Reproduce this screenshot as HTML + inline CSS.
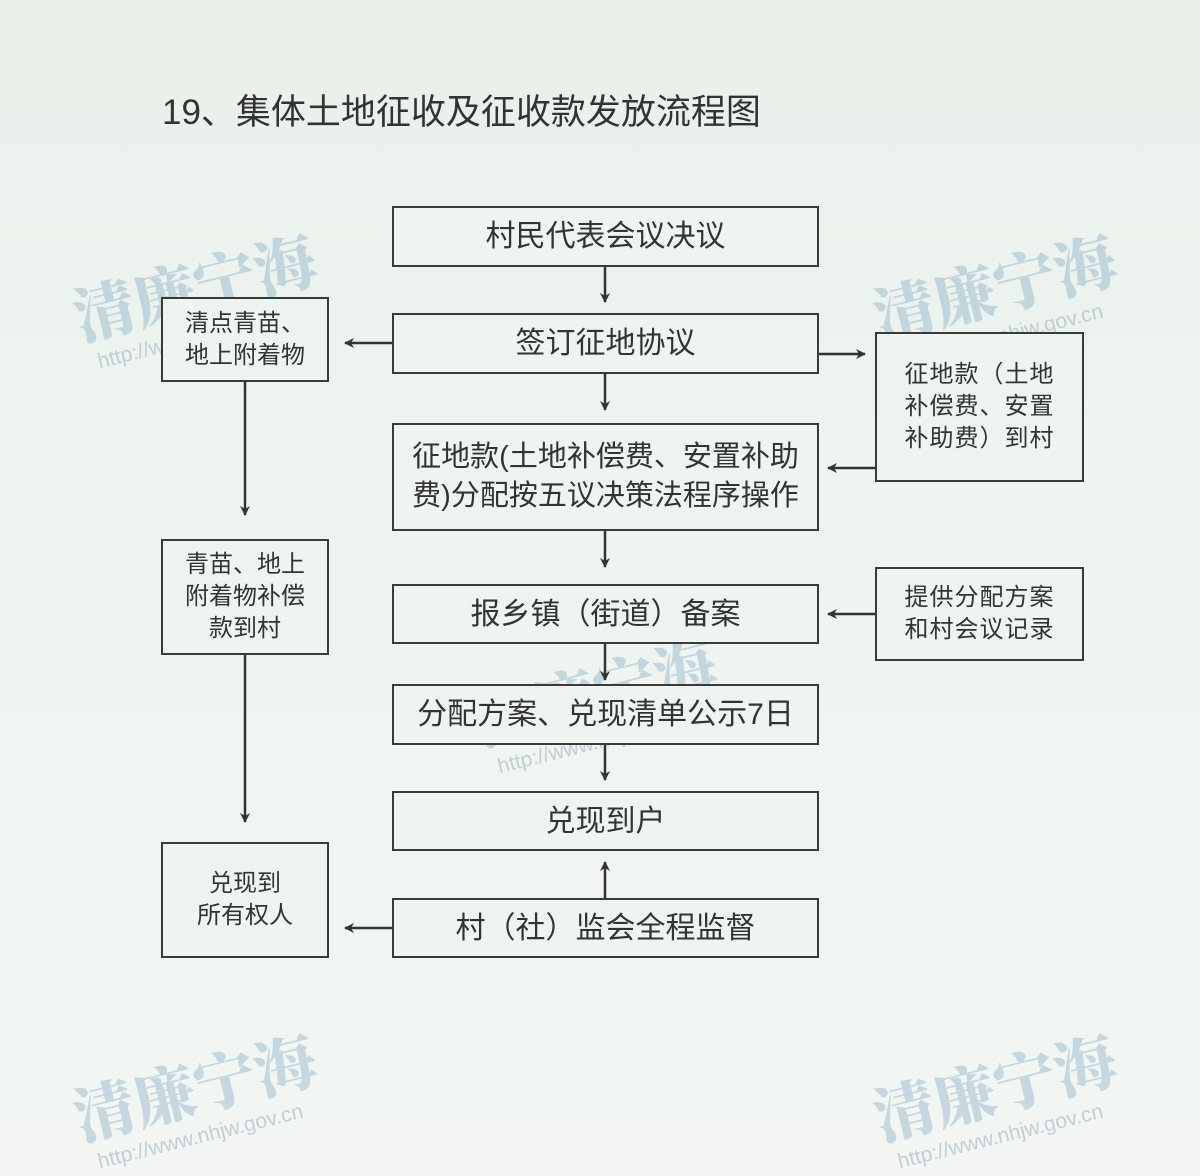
<!DOCTYPE html>
<html><head><meta charset="utf-8"><style>
body{margin:0;width:1200px;height:1176px;overflow:hidden;background:linear-gradient(#e9efe9,#eef4f0 40%,#f3f6f3);font-family:"Liberation Sans","Noto Sans CJK SC",sans-serif;color:#333;position:relative}
.b{position:absolute;box-sizing:border-box;border:2.5px solid #3a3a3a;background:#eef5f1;display:flex;align-items:center;justify-content:center;text-align:center;font-size:30px;line-height:39px}
.s{font-size:24px;line-height:32px}
.r{letter-spacing:1px}
.wm{position:absolute;font-family:"Noto Serif CJK SC",serif;font-weight:900;font-size:62px;color:rgba(130,170,195,0.4);transform:rotate(-14deg);white-space:nowrap}
.wu{position:absolute;font-size:21px;color:rgba(130,160,180,0.45);transform:rotate(-14deg);white-space:nowrap}
svg{position:absolute;left:0;top:0}
</style></head><body>
<div style="position:absolute;left:162px;top:84px;font-size:35px;color:#333">19、集体土地征收及征收款发放流程图</div>
<div class="wm" style="left:70px;top:240px">清廉宁海</div><div class="wu" style="left:95px;top:325px">http://www.nhjw.gov.cn</div>
<div class="wm" style="left:870px;top:240px">清廉宁海</div><div class="wu" style="left:895px;top:325px">http://www.nhjw.gov.cn</div>
<div class="wm" style="left:470px;top:645px">清廉宁海</div><div class="wu" style="left:495px;top:730px">http://www.nhjw.gov.cn</div>
<div class="wm" style="left:70px;top:1040px">清廉宁海</div><div class="wu" style="left:95px;top:1125px">http://www.nhjw.gov.cn</div>
<div class="wm" style="left:870px;top:1040px">清廉宁海</div><div class="wu" style="left:895px;top:1125px">http://www.nhjw.gov.cn</div>
<div class="b" style="left:392px;top:206px;width:427px;height:61px">村民代表会议决议</div>
<div class="b" style="left:392px;top:313px;width:427px;height:61px">签订征地协议</div>
<div class="b" style="left:392px;top:423px;width:427px;height:108px;font-size:29px">征地款(土地补偿费、安置补助<br>费)分配按五议决策法程序操作</div>
<div class="b" style="left:392px;top:584px;width:427px;height:60px">报乡镇（街道）备案</div>
<div class="b" style="left:392px;top:684px;width:427px;height:61px">分配方案、兑现清单公示7日</div>
<div class="b" style="left:392px;top:791px;width:427px;height:60px">兑现到户</div>
<div class="b" style="left:392px;top:898px;width:427px;height:60px">村（社）监会全程监督</div>
<div class="b s" style="left:161px;top:297px;width:168px;height:85px">清点青苗、<br>地上附着物</div>
<div class="b s" style="left:161px;top:539px;width:168px;height:116px">青苗、地上<br>附着物补偿<br>款到村</div>
<div class="b s" style="left:161px;top:842px;width:168px;height:116px">兑现到<br>所有权人</div>
<div class="b s r" style="left:875px;top:332px;width:209px;height:150px">征地款（土地<br>补偿费、安置<br>补助费）到村</div>
<div class="b s r" style="left:875px;top:567px;width:209px;height:94px">提供分配方案<br>和村会议记录</div>
<svg width="1200" height="1176"><defs><marker id="a" markerWidth="10" markerHeight="10" refX="9" refY="5" orient="auto" markerUnits="userSpaceOnUse"><path d="M0,0L10,5L0,10L3,5Z" fill="#333"/></marker></defs>
<g stroke="#333" stroke-width="2.5" marker-end="url(#a)">
<line x1="605" y1="267" x2="605" y2="302"/><line x1="605" y1="374" x2="605" y2="410"/>
<line x1="605" y1="531" x2="605" y2="567"/><line x1="605" y1="644" x2="605" y2="680"/>
<line x1="605" y1="745" x2="605" y2="780"/><line x1="605" y1="898" x2="605" y2="862"/>
<line x1="392" y1="343" x2="345" y2="343"/><line x1="819" y1="354" x2="865" y2="354"/>
<line x1="875" y1="468" x2="828" y2="468"/><line x1="875" y1="614" x2="828" y2="614"/>
<line x1="245" y1="382" x2="245" y2="515"/><line x1="245" y1="655" x2="245" y2="822"/>
<line x1="392" y1="928" x2="345" y2="928"/></g></svg>
</body></html>
